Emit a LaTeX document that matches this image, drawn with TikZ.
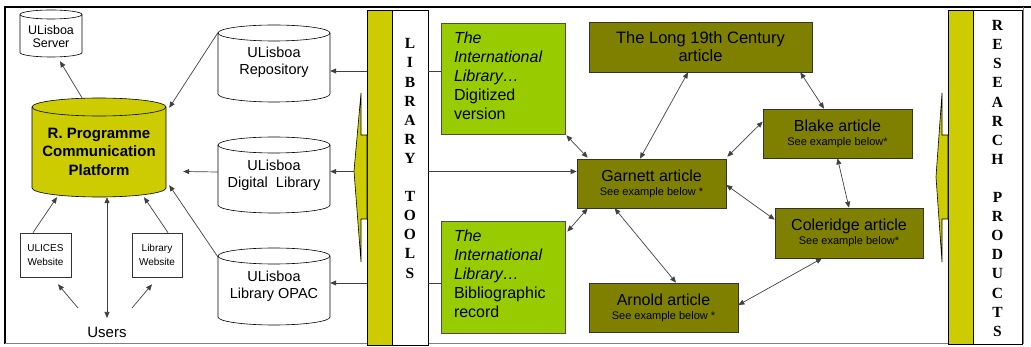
\documentclass[tikz,border=0pt]{standalone}
\usepackage{fontspec}
\setmainfont{Liberation Sans}
\newfontfamily\serifb{Liberation Serif}
\usetikzlibrary{arrows.meta}
\definecolor{ybar}{HTML}{CCCC00}
\definecolor{lgreen}{HTML}{99CC00}
\definecolor{artolive}{HTML}{808000}
\newcommand\drawcylinder[9]{%
  \pgfmathsetmacro\cylrx{(#4-#2)/2}%
  \filldraw[fill=#7, draw=black, line width=0.6pt] (#2,-#3-#6) -- (#2,-#5+#6)
    arc[start angle=180, end angle=360, x radius=\cylrx pt, y radius=#6 pt]
    -- (#4,-#3-#6)
    arc[start angle=0, end angle=180, x radius=\cylrx pt, y radius=#6 pt] -- cycle;
  \draw[line width=0.6pt] (#2,-#3-#6) arc[start angle=180, end angle=360, x radius=\cylrx pt, y radius=#6 pt];
  \node[inner sep=0pt, minimum width={#4-#2}, minimum height={#5-#3}] (#1) at ({(#2+#4)/2},{-(#3+#5)/2}) {};
  \node[inner sep=0pt, align=center, #8] (#1-text) at (#1.center) {#9};
}
\tikzset{
  conn/.style={line width=0.7pt, draw=black!75, -{Triangle[length=6pt,width=5pt]}},
  dconn/.style={line width=0.7pt, draw=black!75, {Triangle[length=6pt,width=5pt]}-{Triangle[length=6pt,width=5pt]}},
  plain/.style={line width=0.7pt, draw=black!75},
  greenbox/.style={draw=black!70, line width=0.7pt, fill=lgreen, minimum width=124pt, inner sep=0pt},
  greentext/.style={text width=100pt, inner sep=0pt, align=left, font=\fontsize{16}{19}\selectfont},
  artbox/.style={draw=black!80, line width=0.7pt, fill=artolive, inner sep=0pt, align=center, font=\fontsize{11}{14}\selectfont},
  smallbox/.style={draw=black!80, line width=0.7pt, fill=white, inner sep=0pt, align=center, font=\fontsize{10}{14}\selectfont},
  barbox/.style={draw=black, line width=0.7pt, inner sep=0pt},
  vletters/.style={align=center, font=\serifb\bfseries\fontsize{15.5}{19.1}\selectfont},
  spike/.style={fill=ybar, draw=black, line width=0.6pt},
}
\begin{document}
\begin{tikzpicture}[x=1pt,y=1pt]
\useasboundingbox (0,0) rectangle (1031,-347);
% frame
\draw[line width=1.8pt] (5,-344) -- (5,-7) -- (1031,-7);
\draw[gray, line width=1pt] (5,-344) -- (1023,-344) -- (1023,-7);

% bars
\node[barbox, fill=ybar, minimum width=25pt, minimum height=335pt] (ltbar) at (379.5,-177.5) {};
\node[barbox, fill=white, minimum width=36pt, minimum height=335pt] (ltbox) at (410,-177.5) {};
\node[vletters] (lttext) at (410,-158.5) {L\\I\\B\\R\\A\\R\\Y\\[19.1pt]T\\O\\O\\L\\S};
\node[barbox, fill=ybar, minimum width=25pt, minimum height=334pt] (rbar) at (960.5,-177) {};
\node[barbox, fill=white, minimum width=49pt, minimum height=334pt] (rbox) at (997.5,-177) {};
\node[vletters] (rtext) at (997.5,-178.5) {R\\E\\S\\E\\A\\R\\C\\H\\[19.1pt]P\\R\\O\\D\\U\\C\\T\\S};

% spikes
\draw[spike] (361,-93) -- (354,-171) -- (361,-262) -- (361,-219) -- (367,-219) -- (367,-135) -- (361,-135) -- cycle;
\draw[spike] (942,-93) -- (936,-177) -- (942,-262) -- (942,-219) -- (948,-219) -- (948,-135) -- (942,-135) -- cycle;

% cylinders
\drawcylinder{server}{20}{10}{82}{57}{4.5}{white}{font=\fontsize{12.5}{13.5}\selectfont, yshift=-3pt}{ULisboa\\Server}
\drawcylinder{rp}{32}{98}{166}{197}{9}{ybar}{font=\bfseries\fontsize{15}{18.5}\selectfont, yshift=-4pt}{R. Programme\\Communication\\Platform}
\drawcylinder{rep}{218}{25}{330}{102}{8}{white}{font=\fontsize{14.5}{17}\selectfont, yshift=1pt}{ULisboa\\Repository}
\drawcylinder{dl}{218}{137}{330}{213}{8}{white}{font=\fontsize{14.5}{17}\selectfont}{ULisboa\\Digital\ \ Library}
\drawcylinder{opac}{218}{248}{330}{325}{8}{white}{font=\fontsize{14.5}{17}\selectfont}{ULisboa\\Library OPAC}

% small boxes and users
\node[smallbox, minimum width=51pt, minimum height=44pt] (ulices) at (45.5,-255) {ULICES\\Website};
\node[smallbox, minimum width=50pt, minimum height=44pt] (libweb) at (157,-255) {Library\\Website};
\node[font=\fontsize{15}{17}\selectfont, inner sep=1pt] (users) at (107,-332) {Users};

% green boxes
\node[greenbox, minimum height=111pt] (g1) at (503,-78.5) {};
\node[greentext] (g1text) at ([xshift=1pt,yshift=3pt]g1.center) {\textit{The}\\\textit{International}\\\textit{Library…}\\Digitized\\version};
\node[greenbox, minimum height=112pt] (g2) at (503,-277) {};
\node[greentext] (g2text) at ([xshift=1pt,yshift=3pt]g2.center) {\textit{The}\\\textit{International}\\\textit{Library…}\\Bibliographic\\record};

% article boxes
\node[artbox, minimum width=223pt, minimum height=50pt, font=\fontsize{16.5}{18}\selectfont] (long) at (700.5,-47) {The Long 19th Century\\article};
\node[artbox, minimum width=149pt, minimum height=49pt] (blake) at (837.5,-133.5) {{\fontsize{16}{18}\selectfont Blake article}\\See example below*};
\node[artbox, minimum width=149pt, minimum height=49pt] (garnett) at (651.5,-183.5) {{\fontsize{16}{18}\selectfont Garnett article}\\See example below *};
\node[artbox, minimum width=148pt, minimum height=50pt] (coleridge) at (849,-233) {{\fontsize{16}{18}\selectfont Coleridge article}\\See example below*};
\node[artbox, minimum width=149pt, minimum height=49pt] (arnold) at (663.5,-307.5) {{\fontsize{16}{18}\selectfont Arnold article}\\See example below *};

% left connectors
\draw[conn] ([xshift=-17pt]rp.north) -- ([xshift=9pt,yshift=-4pt]server.south);
\draw[conn] ([yshift=-8pt]rep.north west) -- ([xshift=3pt,yshift=-10pt]rp.north east);
\draw[conn] ([yshift=3pt]dl.west) -- ([xshift=17pt,yshift=-24pt]rp.east);
\draw[conn] ([yshift=-9pt]opac.north west) -- ([xshift=3pt,yshift=12pt]rp.south east);
\draw[conn] ([xshift=-12.5pt]ulices.north) -- ([xshift=-42pt]rp.south);
\draw[conn] ([xshift=11pt]libweb.north) -- ([xshift=45pt]rp.south);
\draw[conn] ([xshift=-29pt,yshift=24pt]users.center) -- ([xshift=12.5pt,yshift=-7pt]ulices.south);
\draw[conn] ([xshift=25pt,yshift=24pt]users.center) -- ([xshift=-5pt,yshift=-7pt]libweb.south);
\draw[dconn] ([yshift=14pt]users.center) -- ([xshift=8pt]rp.south);

% library tools connectors
\coordinate (t1) at (367,-71);
\coordinate (t2) at (354,-171.5);
\coordinate (t3) at (367,-283);
\draw[conn] (t1) -- (t1 -| rep.east);
\draw[conn] (t2) -- (t2 -| dl.east);
\draw[conn] (t3) -- (t3 -| opac.east);
\coordinate (l1) at (428,-71);
\coordinate (l2) at (428,-171.5);
\coordinate (l3) at (428,-283);
\draw[plain] (l1) -- (l1 -| g1.west);
\draw[conn] (l2) -- (l2 -| garnett.west);
\draw[plain] (l3) -- (l3 -| g2.west);

% article connectors
\draw[dconn] ([xshift=1pt,yshift=-1pt]g1.south east) -- ([xshift=11pt,yshift=1pt]garnett.north west);
\draw[dconn] ([xshift=2pt,yshift=-11pt]g2.north east) -- ([xshift=11pt]garnett.south west);
\draw[dconn] ([xshift=-12.5pt]long.south) -- ([xshift=-11.5pt]garnett.north);
\draw[dconn] ([xshift=-12pt]long.south east) -- ([xshift=-13.5pt]blake.north);
\draw[dconn] ([yshift=-13pt]blake.north west) -- ([xshift=1pt,yshift=2pt]garnett.north east);
\draw[dconn] (blake.south) -- (coleridge.north);
\draw[dconn] ([yshift=-1.5pt]garnett.east) -- ([yshift=-12pt]coleridge.north west);
\draw[dconn] ([xshift=38pt]garnett.south west) -- ([xshift=12.5pt]arnold.north);
\draw[dconn] ([yshift=2.5pt]arnold.east) -- ([xshift=-27pt]coleridge.south);
\end{tikzpicture}
\end{document}
